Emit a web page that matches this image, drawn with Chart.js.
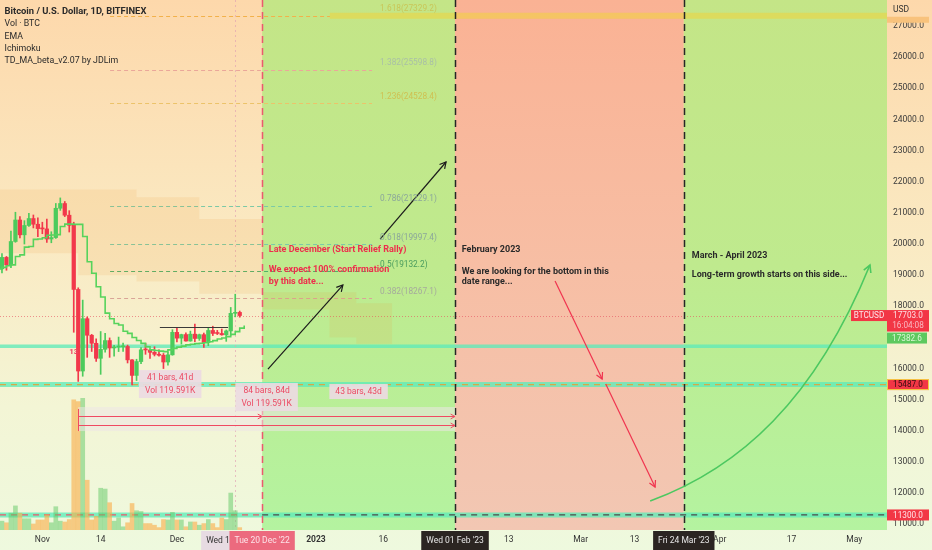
<!DOCTYPE html>
<html>
<head>
<meta charset="utf-8">
<title>Bitcoin / U.S. Dollar, 1D, BITFINEX</title>
<script src="https://cdn.jsdelivr.net/npm/chart.js@4.4.1/dist/chart.umd.min.js"></script>
<style>
html,body{margin:0;padding:0;overflow:hidden;background:#fff;}
#c{display:block;}
</style>
</head>
<body>
<canvas id="c" width="932" height="550"></canvas>
<script>
// ================= DATA (days are counted from 1 Jan 2023) =================
const firstCandleDay = -71;           // 22 Oct 2022, daily bars follow
const opens  = [19163,19204,19570,19330,20080,20771,20295,20595,20818,20635,20495,20485,20160,20207,21148,21300,20925,20600,18541,15922,17602,17070,16812,16330,16619,16900,16662,16692,16700,16710,16280,15781,16226,16603,16598,16522,16458,16428,16212,16442,17163,16977,17092,16885,17105,16967,17089,16836,17224,17128,17127,17085,17209,17775,17804];
const highs  = [19257,19695,19601,20413,21020,20877,20750,20988,20932,20840,20700,20800,20394,21302,21480,21365,21070,20700,18594,18199,17658,17098,16955,17190,17134,16985,16750,17012,16820,16754,16291,16300,16675,16812,16600,16701,16600,16485,16522,17249,17320,17105,17150,17203,17425,17108,17142,17299,17360,17227,17270,17241,17963,18387,17847];
const lows   = [19113,19069,19157,19241,20055,20199,20000,20561,20516,20237,20330,20048,20040,20180,21080,20880,20385,17166,15588,15754,16361,16549,16230,15815,16528,16361,16400,16546,16550,16180,15476,15616,16160,16458,16330,16405,16400,16001,16107,16428,16855,16787,16878,16878,16867,16906,16678,16734,17060,17091,17071,16874,17070,17660,17650];
const closes = [19204,19570,19330,20080,20771,20295,20595,20818,20635,20495,20485,20160,20207,21148,21300,20925,20600,18541,15922,17602,17070,16812,16330,16619,16900,16662,16692,16700,16710,16280,15781,16226,16603,16598,16522,16458,16428,16212,16442,17163,16977,17092,16885,17105,16967,17089,16836,17224,17128,17127,17085,17209,17775,17804,17703];
const volumesK = [0.8,1.1,0.9,2.1,3.0,2.1,1.4,1.4,0.75,1.25,1.25,1.9,0.9,2.9,1.1,1.0,1.3,16.2,16.0,16.4,6.2,1.25,1.7,5.2,5.1,3.4,1.1,1.5,0.4,0.9,3.3,2.4,2.3,0.8,0.8,0.6,0.3,1.3,1.25,2.2,1.25,1.25,0.4,1.0,1.0,0.6,0.8,1.3,0.8,0.3,1.5,1.3,4.6,2.4,0.3];
// TD_MA trailing line (one value per day, from firstCandleDay)
const tdLine = [19200,19250,19300,19330,19600,19650,19900,19920,20150,20160,20200,20280,20290,20300,20560,20640,20640,20630,20630,20240,19430,19060,18630,18300,17780,17600,17450,17400,17200,17130,17000,16900,16810,16700,16600,16580,16560,16545,16600,16650,16690,16720,16760,16780,16800,16812,16830,16860,16898,16950,16980,17026,17100,17187,17300,17383];
// Ichimoku cloud (values hold from each day on)
const cloudDays   = [-71, -53, -40, -26, -12, 3, 9, 17];
const cloudTop    = [21750, 21750, 21500, 20800, 18450, 18450, 18100, 18100];
const cloudBottom = [19700, 19000, 18800, 18400, 17900, 17000, 16800, 16800];

// axis ticks
const xTickDays   = [-61, -48, -31, 0, 15, 43, 59, 71, 90, 106, 120];
const xTickLabels = ['Nov', '14', 'Dec', '2023', '16', '13', 'Mar', '13', 'Apr', '17', 'May'];
const yTickValues = [11000,12000,13000,14000,15000,16000,17000,18000,19000,20000,21000,22000,23000,24000,25000,26000,27000];

// background zones (Dec 20 / Feb 1 / Mar 24)
const zoneStart = [-12, 31, 82];
const zoneEnd   = [31, 82, null];
const zoneKind  = ['up', 'down', 'up'];

// fibonacci levels
const fibLevels = ['1.618', '1.382', '1.236', '0.786', '0.618', '0.5', '0.382'];
const fibPrices = [27329.2, 25598.8, 24528.4, 21229.1, 19997.4, 19132.2, 18267.1];
const fibFromDay = -45.9, fibToDay = 12.5, fibLabelDay = 14.3, fibBandFromDay = 3.1;

// horizontal levels
const supportLevels = [16720, 15487, 11300];
const lastPrice = 17703;
const tdLast = 17382.6;

// range measurements
const rangeFrom = [-53, -53, -12];
const rangeTo   = [-12, 31, 31];
const rangePrice = [14476, 14187, 14476];
const rangeBox = { fromDay: -53, toDay: 31, top: 14765, bottom: 13994 };
const rangeLabels = [['41 bars, 41d', 'Vol 119.591K'], ['84 bars, 84d', 'Vol 119.591K'], ['43 bars, 43d']];
const rangeLabelTop = [15953, 15536, 15504];

// consolidation box
const boxFromDay = -34.8, boxToDay = -19.6, boxTop = 17344, boxBottom = 16720;

// notes
const noteTexts  = ['Late December (Start Relief Rally)', 'We expect 100% confirmation', 'by this date...', 'February 2023', 'We are looking for the bottom in this', 'date range...', 'March - April 2023', 'Long-term growth starts on this side...'];
const noteDays   = [-10.5, -10.5, -10.5, 32.5, 32.5, 32.5, 83.8, 83.8];
const notePrices = [19807, 19164, 18790, 19807, 19116, 18790, 19623, 19004];
const noteKinds  = ['red', 'red', 'red', 'dark', 'dark', 'dark', 'dark', 'dark'];

// arrows [fromDay, fromPrice, toDay, toPrice]
const arrowFromDay = [-10.7, 14.3, 53.3, 64.6];
const arrowFromPx  = [15985, 20160, 18811, 15504];
const arrowToDay   = [6.0, 29.0, 63.8, 75.6];
const arrowToPx    = [18683, 22633, 15664, 12196];
const arrowKinds   = ['dark', 'dark', 'red', 'red'];
// growth curve (cubic bezier) days / prices
const curveDays   = [74.5, 94.5, 111.2, 123.5];
const curvePrices = [11746, 12806, 14990, 19325];

// time axis tags
const timeTagDays  = [-18, -12, 31, 82];
const timeTagTexts = ["Wed 14 Dec '22", "Tue 20 Dec '22", "Wed 01 Feb '23", "Fri 24 Mar '23"];
const timeTagKinds = ['grey', 'red', 'dark', 'dark'];

const legendLines = ['Bitcoin / U.S. Dollar, 1D, BITFINEX', 'Vol · BTC', 'EMA', 'Ichimoku', 'TD_MA_beta_v2.07 by JDLim'];

// ================= CHART =================
const FF = 'Roboto, "DejaVu Sans", Arial, sans-serif';
const fnt = (s, w) => `${w || 'normal'} ${s}px ${FF}`;
const UP = '#4ccb5c', DOWN = '#f2384b';
const dayOf = i => firstCandleDay + i;

const bodies = opens.map((o, i) => ({ x: dayOf(i), y: [o, closes[i]] }));
const wicks  = opens.map((o, i) => ({ x: dayOf(i), y: [lows[i], highs[i]] }));
const candleCol = opens.map((o, i) => closes[i] >= o ? UP : DOWN);
const vols = volumesK.map((v, i) => ({ x: dayOf(i), y: v }));
const volCol = opens.map((o, i) => closes[i] >= o ? 'rgba(95,200,100,0.5)' : 'rgba(250,172,70,0.6)');
const tdPts = tdLine.map((v, i) => ({ x: dayOf(i), y: v }));
const cTop = cloudDays.map((d, i) => ({ x: d, y: cloudTop[i] }));
const cBot = cloudDays.map((d, i) => ({ x: d, y: cloudBottom[i] }));

function arrowHead(ctx, x1, y1, x2, y2, size) {
  const a = Math.atan2(y2 - y1, x2 - x1);
  ctx.beginPath();
  ctx.moveTo(x2 - size * Math.cos(a - 0.5), y2 - size * Math.sin(a - 0.5));
  ctx.lineTo(x2, y2);
  ctx.lineTo(x2 - size * Math.cos(a + 0.5), y2 - size * Math.sin(a + 0.5));
  ctx.stroke();
}
function seg(ctx, x1, y1, x2, y2) { ctx.beginPath(); ctx.moveTo(x1, y1); ctx.lineTo(x2, y2); ctx.stroke(); }

const overlay = {
  id: 'overlay',
  beforeDraw(chart) {
    const { ctx, width, height, chartArea: a } = chart;
    const xs = chart.scales.x;
    ctx.save();
    const bg = ctx.createLinearGradient(0, 0, 0, height);
    bg.addColorStop(0, '#fdd8ab'); bg.addColorStop(0.45, '#faeac3');
    bg.addColorStop(0.74, '#f3f5d5'); bg.addColorStop(1, '#eef9de');
    ctx.fillStyle = bg; ctx.fillRect(0, 0, width, height);
    const gG = ctx.createLinearGradient(0, a.top, 0, a.bottom);
    gG.addColorStop(0, '#c4e587'); gG.addColorStop(0.5, '#bfea8e'); gG.addColorStop(1, '#b4f3a0');
    const gR = ctx.createLinearGradient(0, a.top, 0, a.bottom);
    gR.addColorStop(0, '#fab294'); gR.addColorStop(0.5, '#f7bea4'); gR.addColorStop(1, '#f2c7b3');
    zoneStart.forEach((d, i) => {
      const x1 = xs.getPixelForValue(d);
      const x2 = zoneEnd[i] === null ? a.right : xs.getPixelForValue(zoneEnd[i]);
      ctx.fillStyle = zoneKind[i] === 'up' ? gG : gR;
      ctx.fillRect(x1, a.top, x2 - x1, a.bottom - a.top);
    });
    ctx.restore();
  },
  beforeDatasetsDraw(chart) {
    const { ctx, chartArea: a } = chart;
    const X = v => chart.scales.x.getPixelForValue(v), Y = v => chart.scales.y.getPixelForValue(v);
    ctx.save();
    ctx.beginPath(); ctx.rect(a.left, a.top, a.right - a.left, a.bottom - a.top); ctx.clip();
    // consolidation box
    ctx.fillStyle = 'rgba(255,246,200,0.55)';
    ctx.fillRect(X(boxFromDay), Y(boxTop), X(boxToDay) - X(boxFromDay), Y(boxBottom) - Y(boxTop));
    // fib lines
    const fibLine = ['#f2b14a', '#eaa79a', '#ecc36a', '#7cc9a6', '#7cc9a6', '#4fb06a', '#d9a597'];
    fibPrices.forEach((p, i) => {
      ctx.strokeStyle = fibLine[i]; ctx.lineWidth = 1; ctx.setLineDash([4, 3]);
      const end = i === 0 ? fibBandFromDay : fibToDay;
      seg(ctx, X(fibFromDay), Math.round(Y(p)) + 0.5, X(end), Math.round(Y(p)) + 0.5);
    });
    ctx.setLineDash([]);
    ctx.strokeStyle = 'rgba(240,212,60,0.55)'; ctx.lineWidth = 6;
    seg(ctx, X(fibBandFromDay), Y(fibPrices[0]), a.right, Y(fibPrices[0]));
    // mint support bands
    const bandW = [3.5, 5, 5];
    supportLevels.forEach((p, i) => {
      ctx.strokeStyle = 'rgba(95,235,185,0.78)'; ctx.lineWidth = bandW[i];
      seg(ctx, a.left, Y(p), a.right, Y(p));
    });
    ctx.lineWidth = 1.2; ctx.setLineDash([6, 5]);
    ctx.strokeStyle = '#d6a847';
    seg(ctx, a.left, Y(supportLevels[1]), a.right, Y(supportLevels[1]));
    ctx.strokeStyle = '#e8596c';
    seg(ctx, a.left, Y(supportLevels[2]), X(zoneStart[0]), Y(supportLevels[2]));
    ctx.strokeStyle = '#4a4a4a';
    seg(ctx, X(zoneStart[0]), Y(supportLevels[2]), a.right, Y(supportLevels[2]));
    // last price dotted
    ctx.strokeStyle = 'rgba(230,80,95,0.6)'; ctx.setLineDash([1, 2]); ctx.lineWidth = 1;
    seg(ctx, a.left, Math.round(Y(lastPrice)) + 0.5, a.right, Math.round(Y(lastPrice)) + 0.5);
    // crosshair vertical (Dec 14)
    ctx.strokeStyle = 'rgba(225,160,180,0.65)'; ctx.setLineDash([2, 3]);
    seg(ctx, Math.round(X(timeTagDays[0])) + 0.5, a.top, Math.round(X(timeTagDays[0])) + 0.5, a.bottom);
    ctx.setLineDash([]);
    ctx.restore();
  },
  afterDatasetsDraw(chart) {
    const { ctx, chartArea: a } = chart;
    const X = v => chart.scales.x.getPixelForValue(v), Y = v => chart.scales.y.getPixelForValue(v);
    ctx.save();
    ctx.beginPath(); ctx.rect(a.left, a.top, a.right - a.left, a.bottom - a.top); ctx.clip();
    // box top line
    ctx.strokeStyle = '#3a3a3a'; ctx.lineWidth = 1;
    seg(ctx, X(boxFromDay), Math.round(Y(boxTop)) + 0.5, X(boxToDay), Math.round(Y(boxTop)) + 0.5);
    // vertical date lines
    zoneStart.forEach((d, i) => {
      ctx.strokeStyle = i === 0 ? '#ea5a6e' : '#262626'; ctx.lineWidth = 1.5; ctx.setLineDash([7, 5]);
      const x = Math.round(X(d)) + 0.5;
      seg(ctx, x, a.top, x, a.bottom);
    });
    ctx.setLineDash([]);
    // range tool
    ctx.fillStyle = 'rgba(236,230,230,0.55)';
    ctx.fillRect(X(rangeBox.fromDay), Y(rangeBox.top), X(rangeBox.toDay) - X(rangeBox.fromDay), Y(rangeBox.bottom) - Y(rangeBox.top));
    ctx.strokeStyle = '#f04a62'; ctx.lineWidth = 1;
    rangeFrom.forEach((d, i) => {
      const y = Math.round(Y(rangePrice[i])) + 0.5;
      seg(ctx, X(d), y, X(rangeTo[i]), y);
      arrowHead(ctx, X(d), y, X(rangeTo[i]), y, 5);
    });
    seg(ctx, Math.round(X(rangeBox.fromDay)) + 0.5, Y(rangeBox.top) + 2, Math.round(X(rangeBox.fromDay)) + 0.5, Y(rangeBox.bottom));
    // range labels
    ctx.font = fnt(8.5); ctx.textAlign = 'center'; ctx.textBaseline = 'middle';
    rangeLabels.forEach((lines, i) => {
      const cx = (X(rangeFrom[i]) + X(rangeTo[i])) / 2;
      const top = Y(rangeLabelTop[i]);
      const w = Math.max(...lines.map(t => ctx.measureText(t).width)) + 12;
      const h = lines.length === 1 ? 15 : 28;
      ctx.fillStyle = 'rgba(236,218,226,0.92)';
      ctx.fillRect(cx - w / 2, top, w, h);
      ctx.fillStyle = '#ec4a63';
      lines.forEach((t, k) => ctx.fillText(t, cx, top + (lines.length === 1 ? 7.5 : 7.5 + k * 13)));
    });
    // arrows
    arrowFromDay.forEach((d, i) => {
      ctx.strokeStyle = arrowKinds[i] === 'red' ? '#f0344f' : '#1b1b1b'; ctx.lineWidth = 1.2;
      const x1 = X(d), y1 = Y(arrowFromPx[i]), x2 = X(arrowToDay[i]), y2 = Y(arrowToPx[i]);
      seg(ctx, x1, y1, x2, y2);
      arrowHead(ctx, x1, y1, x2, y2, 7);
    });
    // growth curve
    const cp = curveDays.map((d, i) => [X(d), Y(curvePrices[i])]);
    ctx.strokeStyle = '#4cc860'; ctx.lineWidth = 1.6;
    ctx.beginPath(); ctx.moveTo(cp[0][0], cp[0][1]);
    ctx.bezierCurveTo(cp[1][0], cp[1][1], cp[2][0], cp[2][1], cp[3][0], cp[3][1]); ctx.stroke();
    arrowHead(ctx, cp[2][0], cp[2][1], cp[3][0], cp[3][1], 8);
    // notes
    ctx.textAlign = 'left'; ctx.textBaseline = 'middle';
    noteTexts.forEach((t, i) => {
      ctx.font = fnt(9, 'bold');
      ctx.fillStyle = noteKinds[i] === 'red' ? '#ee2d4c' : '#2a2a2a';
      ctx.fillText(t, X(noteDays[i]), Y(notePrices[i]));
    });
    // fib labels
    const fibLab = ['#c9c658', '#a9bfa6', '#cfc052', '#8ba79a', '#8ba79a', '#4a9c5e', '#a5aa9c'];
    ctx.font = fnt(8.3); ctx.textBaseline = 'middle';
    fibPrices.forEach((p, i) => {
      ctx.fillStyle = fibLab[i];
      ctx.fillText(`${fibLevels[i]}(${p.toFixed(1)})`, X(fibLabelDay), Y(p) - 6.5);
    });
    // TD count label
    ctx.font = fnt(8, 'bold'); ctx.fillStyle = '#ef4060'; ctx.textAlign = 'center';
    ctx.fillText('13', X(-54), Y(16541));
    // legend
    ctx.textAlign = 'left'; ctx.fillStyle = '#2a2a2a';
    legendLines.forEach((t, i) => {
      ctx.font = i === 0 ? fnt(9.4, 'bold') : fnt(8.8);
      ctx.fillText(t, 4.5, 12 + i * 12.3);
    });
    ctx.restore();
  },
  afterDraw(chart) {
    const { ctx, chartArea: a } = chart;
    const X = v => chart.scales.x.getPixelForValue(v), Y = v => chart.scales.y.getPixelForValue(v);
    ctx.save();
    ctx.textAlign = 'center'; ctx.textBaseline = 'middle';
    const rect = (x, y, w, h, c) => { ctx.fillStyle = c; ctx.fillRect(x, y, w, h); };
    const rx = a.right, rw = 42, rc = a.right + 21;
    // 1.618 marker
    rect(rx, Y(fibPrices[0]) + 1, rw, 6, '#f8c27c');
    // USD
    ctx.font = fnt(8.5); ctx.fillStyle = '#333'; ctx.textAlign = 'left';
    ctx.fillText('USD', rx + 6, 9.5);
    ctx.textAlign = 'center';
    // last price tags
    const yl = Y(lastPrice);
    rect(rx - 36, yl - 5.5, 36, 11, '#f23645');
    ctx.fillStyle = '#fde6ea'; ctx.font = fnt(8.2); ctx.fillText('BTCUSD', rx - 18, yl + 0.5);
    rect(rx, yl - 5.5, rw, 21.5, '#f23645');
    ctx.fillStyle = '#fde0e4'; ctx.fillText(lastPrice.toFixed(1), rc, yl + 0.5);
    ctx.fillStyle = '#f9b8c1'; ctx.fillText('16:04:08', rc, yl + 10.5);
    // td last tag (pushed below the price tag)
    const gTop = Math.max(Y(tdLast) - 5.5, yl + 17);
    rect(rx, gTop, rw - 2, 11, '#5dc95f');
    ctx.fillStyle = '#d9f7d4'; ctx.fillText(tdLast.toFixed(1), rc - 1, gTop + 6);
    // 15487 tag
    const y2 = Y(supportLevels[1]);
    rect(rx, y2 - 5.5, rw, 11, '#f23645');
    ctx.strokeStyle = '#f5c842'; ctx.lineWidth = 1; ctx.strokeRect(rx + 0.5, y2 - 5, rw - 1, 10);
    ctx.fillStyle = '#3a0d10'; ctx.fillText(supportLevels[1].toFixed(1), rc, y2 + 0.5);
    // 11300 tag
    const y3 = Y(supportLevels[2]);
    rect(rx, y3 - 5.5, rw, 11, '#f23645');
    ctx.fillStyle = '#ffe4e8'; ctx.fillText(supportLevels[2].toFixed(1), rc, y3 + 0.5);
    // time tags
    const tagBg = { grey: '#e7dbe2', red: '#ec6a7e', dark: '#2b2522' };
    const tagFg = { grey: '#333333', red: '#fde3e8', dark: '#e6e6e6' };
    ctx.font = fnt(8.5);
    timeTagDays.forEach((d, i) => {
      const w = ctx.measureText(timeTagTexts[i]).width + 10;
      const cx = X(d);
      rect(cx - w / 2, a.bottom + 1, w, 19, tagBg[timeTagKinds[i]]);
      ctx.fillStyle = tagFg[timeTagKinds[i]];
      ctx.fillText(timeTagTexts[i], cx, a.bottom + 10.5);
    });
    ctx.restore();
  }
};

const X_MIN = -70.44, X_MAX = 127.3, Y_MIN = 10817, Y_MAX = 27835;

new Chart(document.getElementById('c'), {
  type: 'bar',
  data: {
    datasets: [
      { type: 'line', data: cTop, stepped: true, borderWidth: 0, pointRadius: 0, fill: false, order: 20 },
      { type: 'line', data: cBot, stepped: true, borderWidth: 0, pointRadius: 0, fill: '-1', backgroundColor: 'rgba(240,150,50,0.12)', order: 19 },
      { type: 'bar', data: vols, yAxisID: 'yv', backgroundColor: volCol, barThickness: 4, grouped: false, order: 10 },
      { type: 'bar', data: wicks, backgroundColor: candleCol, barThickness: 1, grouped: false, order: 3 },
      { type: 'bar', data: bodies, backgroundColor: candleCol, barThickness: 3.6, minBarLength: 1, grouped: false, order: 2 },
      { type: 'line', data: tdPts, stepped: true, borderColor: '#57d35c', borderWidth: 1.6, pointRadius: 0, fill: false, order: 1 }
    ]
  },
  options: {
    responsive: false, animation: false, devicePixelRatio: 1, events: [],
    layout: { padding: 0 },
    plugins: { legend: { display: false }, tooltip: { enabled: false } },
    scales: {
      x: {
        type: 'linear', min: X_MIN, max: X_MAX, offset: false,
        grid: { display: false, drawTicks: false }, border: { display: false },
        afterBuildTicks: s => { s.ticks = xTickDays.map(v => ({ value: v })); },
        afterFit: s => { s.height = 20; s.paddingLeft = 0; s.paddingRight = 0; },
        ticks: {
          autoSkip: false, maxRotation: 0, padding: 5, color: '#333',
          font: c => ({ family: FF, size: 8.5, weight: xTickLabels[c.index] === '2023' ? 'bold' : 'normal' }),
          callback: (v, i) => xTickLabels[i]
        }
      },
      y: {
        type: 'linear', position: 'right', min: Y_MIN, max: Y_MAX,
        grid: { display: false, drawTicks: false }, border: { display: false },
        afterBuildTicks: s => { s.ticks = yTickValues.map(v => ({ value: v })); },
        afterFit: s => { s.width = 45; s.paddingTop = 0; s.paddingBottom = 0; },
        ticks: { padding: 6, color: '#3a3a3a', font: { family: FF, size: 8.5 }, callback: v => Number(v).toFixed(1) }
      },
      yv: { type: 'linear', display: false, min: 0, max: 66 }
    }
  },
  plugins: [overlay]
});
</script>
</body>
</html>
